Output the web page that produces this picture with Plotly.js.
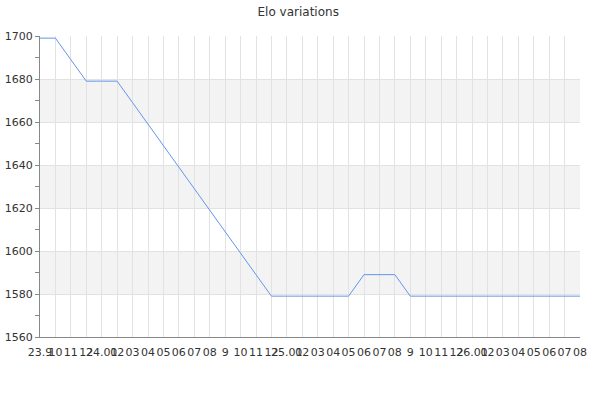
<!DOCTYPE html>
<html>
<head>
<meta charset="utf-8">
<script src="https://cdn.plot.ly/plotly-3.0.1.min.js"></script>
<style>
  html, body { margin: 0; padding: 0; background: #fff; }
  #chart { width: 600px; height: 400px; }
</style>
</head>
<body>
<div id="chart"></div>
<script>
// month labels, one per rating snapshot
const months = [
    '23.9', '10', '11', '12',
    '24.01', '02', '03', '04', '05', '06', '07', '08', '9', '10', '11', '12',
    '25.01', '02', '03', '04', '05', '06', '07', '08', '9', '10', '11', '12',
    '26.01', '02', '03', '04', '05', '06', '07', '08'
]
const elo = [
    1699, 1699, 1689, 1679,
    1679, 1679, 1669, 1659, 1649, 1639, 1629, 1619, 1609, 1599, 1589, 1579,
    1579, 1579, 1579, 1579, 1579, 1589, 1589, 1589, 1579, 1579, 1579, 1579,
    1579, 1579, 1579, 1579, 1579, 1579, 1579, 1579
]
const yTicks = [1560, 1580, 1600, 1620, 1640, 1660, 1680, 1700]

const idx = months.map((m, i) => i)

// alternating grey bands between every other pair of y ticks
const bands = []
for (let i = 1; i < yTicks.length - 1; i += 2) {
    bands.push({
        type: 'rect', xref: 'paper', yref: 'y',
        x0: 0, x1: 1, y0: yTicks[i], y1: yTicks[i + 1],
        fillcolor: '#f3f3f3', line: {width: 0}, layer: 'below'
    })
}

const data = [{
    x: idx,
    y: elo,
    type: 'scatter',
    mode: 'lines',
    line: {color: '#6495ed', width: 1},
    hoverinfo: 'skip'
}]

const layout = {
    width: 600,
    height: 400,
    margin: {l: 40, r: 20, t: 36, b: 63},
    paper_bgcolor: '#fff',
    plot_bgcolor: '#fff',
    font: {family: 'DejaVu Sans', size: 11, color: '#333'},
    title: {
        text: 'Elo variations',
        font: {family: 'DejaVu Sans', size: 12, color: '#333'},
        x: 0.497, xanchor: 'center', y: 0.97, yanchor: 'middle'
    },
    showlegend: false,
    shapes: bands,
    xaxis: {
        range: [0, months.length - 1],
        tickmode: 'array',
        tickvals: idx,
        ticktext: months,
        tickangle: 0,
        ticks: '',
        ticklabelstandoff: 5,
        showgrid: true,
        gridcolor: '#e2e2e2',
        gridwidth: 1,
        zeroline: false,
        showline: true,
        linecolor: '#888',
        linewidth: 1,
        fixedrange: true
    },
    yaxis: {
        range: [1560, 1700],
        tickmode: 'array',
        tickvals: yTicks,
        ticks: 'outside',
        ticklen: 4,
        tickcolor: '#888',
        minor: {dtick: 10, tick0: 1560, ticks: 'outside', ticklen: 4, tickcolor: '#888', showgrid: false},
        showgrid: true,
        gridcolor: '#e2e2e2',
        gridwidth: 1,
        zeroline: false,
        showline: true,
        linecolor: '#888',
        linewidth: 1,
        fixedrange: true
    }
}

Plotly.newPlot('chart', data, layout, {displayModeBar: false, staticPlot: true})
</script>
</body>
</html>
